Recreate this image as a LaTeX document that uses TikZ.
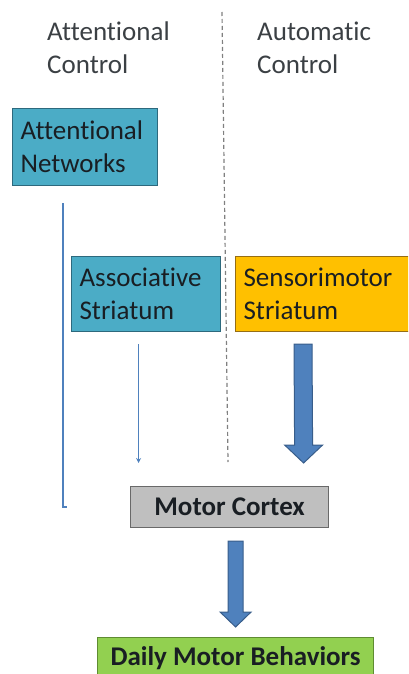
\documentclass[tikz,border=0pt]{standalone}
\usepackage{fontspec}
\setmainfont{Carlito}[Ligatures={NoCommon}]
\usetikzlibrary{arrows.meta,positioning,calc}
\definecolor{aqua}{RGB}{75,172,198}
\definecolor{aquaD}{RGB}{45,105,125}
\definecolor{amber}{RGB}{255,192,0}
\definecolor{amberD}{RGB}{150,110,20}
\definecolor{greyF}{RGB}{191,191,191}
\definecolor{greyD}{RGB}{105,105,105}
\definecolor{leaf}{RGB}{146,208,80}
\definecolor{leafD}{RGB}{95,140,50}
\definecolor{steel}{RGB}{79,129,189}
\definecolor{steelD}{RGB}{56,93,138}
\definecolor{ink}{RGB}{25,30,35}
\tikzset{
  hdr/.style={anchor=north west,inner sep=0pt,align=left,text=ink!85,
    font=\fontsize{27}{33}\selectfont},
  box/.style={draw,line width=1.2pt,anchor=north west,inner xsep=8pt,inner ysep=0pt,
    align=left,text=ink,font=\fontsize{27}{33}\selectfont},
  bbox/.style={draw,line width=1.2pt,anchor=north west,inner sep=0pt,
    text=ink,font=\fontsize{27}{33}\selectfont\bfseries},
  link/.style={steel,line width=1.8pt},
  arr/.style={-{Stealth[length=5pt,width=5pt]},steel,line width=1.5pt},
  fat/.style={fill=steel,draw=steelD,line width=1pt,line join=miter},
  divide/.style={gray,line width=1.2pt,dash pattern=on 4pt off 3pt},
}
% start, tip, half shaft, half head, head length
\newcommand{\fatarrow}[5]{%
  \filldraw[fat] ($(#1)+(-#3,0)$) -- ($(#2)+(-#3,-#5)$) -- ($(#2)+(-#4,-#5)$) -- (#2)
    -- ($(#2)+(#4,-#5)$) -- ($(#2)+(#3,-#5)$) -- ($(#1)+(#3,0)$) -- cycle;}

\begin{document}
\begin{tikzpicture}[x=1pt,y=-1pt]
  \useasboundingbox (0,0) rectangle (408,674);
  \clip (0,0) rectangle (408,674);
  \draw[divide] (222,12) -- (228,462);
  \node[hdr] (hAttn) at (47,22) {Attentional\\Control};
  \node[hdr] (hAuto) at (257,22) {Automatic\\Control};
  \node[box,fill=aqua,draw=aquaD,text width=129pt,minimum height=77pt] (attn) at (12,108)
    {Attentional\\Networks};
  \node[box,fill=aqua,draw=aquaD,text width=133pt,minimum height=75pt] (assoc) at (71,256)
    {Associative\\Striatum};
  \node[box,fill=amber,draw=amberD,text width=164pt,minimum height=75pt] (sensori) at (235,256)
    {Sensorimotor\\Striatum};
  \node[bbox,fill=greyF,draw=greyD,minimum width=198pt,minimum height=41pt] (motor) at (130,486)
    {Motor Cortex};
  \node[bbox,fill=leaf,draw=leafD,minimum width=276pt,minimum height=41pt] (daily) at (97,637)
    {Daily Motor Behaviors};
  % attentional route
  \coordinate (attnEnd) at ($(motor.west)+(-63,0)$);
  \draw[link] ($(attn.south)+(-22.5,17)$) |- (attnEnd);
  \draw[arr] ($(assoc.south)+(-7.5,12)$) -- ($(motor.north)+(-91,-23)$);
  % automatic route
  \coordinate (sTop) at ($(sensori.south west)+(68,12)$);
  \coordinate (sTip) at ($(motor.north)+(74,-23)$);
  \fatarrow{sTop}{sTip}{9}{19}{18}
  \coordinate (mTop) at ($(motor.south)+(6,13)$);
  \coordinate (mTip) at ($(daily.north)+(0,-10)$);
  \fatarrow{mTop}{mTip}{7.5}{15.5}{15}
\end{tikzpicture}
\end{document}
